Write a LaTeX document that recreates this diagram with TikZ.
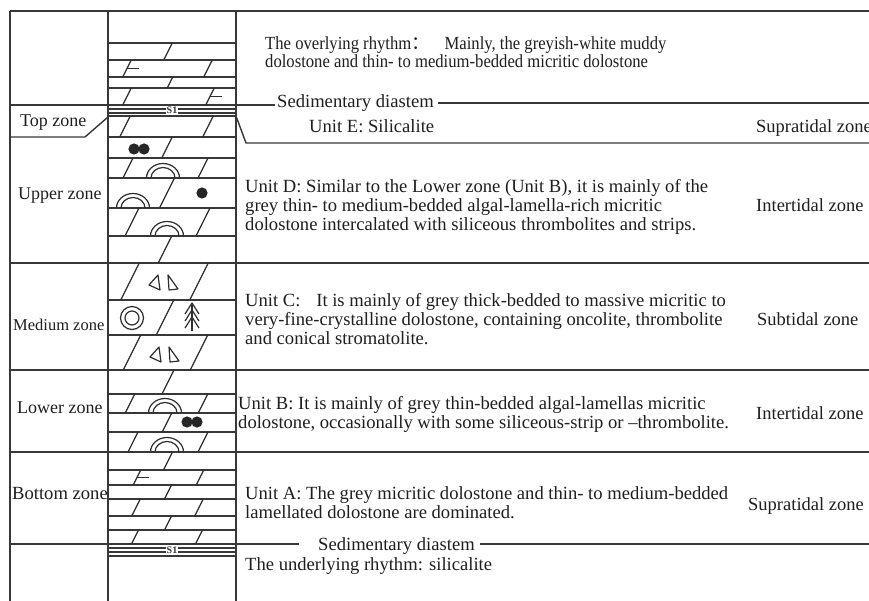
\documentclass[tikz,border=0pt]{standalone}
\usepackage{fontspec}
\setmainfont{Liberation Serif}
\newfontfamily\narrowserif{Liberation Serif}[FakeStretch=0.9]
\newfontfamily\cjk{Noto Sans CJK SC}
\begin{document}
\begin{tikzpicture}[x=1pt,y=-1pt,
  frame/.style={line width=1.4pt, draw=black!78},
  bedline/.style={line width=1.2pt, draw=black!78},
  sym/.style={line width=1.2pt, draw=black!82, line join=round},
  dot/.style={fill=black!85},
  zlab/.style={font=\fontsize{18}{18}\selectfont, text=black!88, inner sep=0pt, anchor=base west},
  mlab/.style={font=\fontsize{16.5}{16.5}\selectfont, text=black!88, inner sep=0pt, anchor=base west},
  desc/.style={font=\fontsize{18.6}{18.6}\selectfont, text=black!88, inner sep=0pt, anchor=base west},
  topdesc/.style={font=\narrowserif\fontsize{18.5}{18.5}\selectfont, text=black!88, inner sep=0pt, anchor=base west},
  envlab/.style={font=\fontsize{18.5}{18.5}\selectfont, text=black!88, inner sep=0pt, anchor=base west},
  sone/.style={font=\fontsize{10}{10}\selectfont\bfseries, text=black!80, fill=white, inner sep=0.6pt}]
\useasboundingbox (0,0) rectangle (869,601);
\fill[white] (0,0) rectangle (869,601);

% ---------- helpers for the lithology column ----------
\newcommand\slashmark[3]{% x, bed top, bed bottom
  \draw[sym] ({#1-0.25*(#3-#2)},#3) -- ({#1+0.25*(#3-#2)},#2);}
\newcommand\mudmark[3]{% slash with a short tick
  \slashmark{#1}{#2}{#3}
  \draw[sym] (#1,{(#2+#3)/2}) -- ++(12,0);}
\newcommand\archmark[2]{% centre x, base y
  \draw[sym] ({#1+16.5},#2) arc[start angle=0,end angle=180,x radius=16.5pt,y radius=14.5pt];
  \draw[sym] ({#1+12},#2) arc[start angle=0,end angle=180,x radius=12pt,y radius=10.5pt];}
\newcommand\dotpair[2]{%
  \fill[dot] ({#1-5},#2) circle[radius=5.6pt];
  \fill[dot] ({#1+5},#2) circle[radius=5.6pt];}
\newcommand\thromb[2]{%
  \draw[sym] ({#1-12},{#2+2}) -- ({#1-3},{#2-8}) -- ({#1-1},{#2+7}) -- cycle;
  \draw[sym] ({#1+7},{#2-8}) -- ({#1+8},{#2+7}) -- ({#1+17},{#2+6}) -- cycle;}

% ---------- frame ----------
\draw[frame] (10,11) -- (869,11);
\draw[frame] (10,11) -- (10,601);
\draw[frame] (108,11) -- (108,601);
\draw[frame] (236,11) -- (236,601);

% zone boundaries across the whole table
\foreach \yy in {263,370,452} \draw[frame] (10,\yy) -- (869,\yy);

% bed lines inside the lithology column
\foreach \yy in {43,60,77,88,137,158,178,208,236,300,335,394,413,432,470,485,499,516,530}
  \draw[bedline] (108,\yy) -- (236,\yy);

% upper silicalite band
\draw[frame] (10,105) -- (275,105);
\foreach \yy in {109,113,116} \draw[bedline] (108,\yy) -- (236,\yy);
\node[sone] (s1top) at (172,110.5) {S1};

% lower silicalite band
\draw[frame] (10,544) -- (299,544);
\draw[frame] (480,544) -- (869,544);
\foreach \yy in {548,552,556} \draw[bedline] (108,\yy) -- (236,\yy);
\node[sone] (s1bot) at (172,550) {S1};

% top zone bracket
\draw[frame] (10,137) -- (85,137) -- (108,117);
\draw[frame] (236,116) -- (246,143) -- (869,143);
\draw[frame] (438,103) -- (869,103);

% ---------- symbols ----------
% overlying rhythm
\slashmark{168}{43}{60}
\mudmark{127}{60}{77}
\slashmark{208}{60}{77}
\slashmark{170}{77}{88}
\slashmark{127}{88}{105}
\mudmark{210}{88}{105}
% top zone
\slashmark{125}{116}{137}
\slashmark{208}{116}{137}
% upper zone
\dotpair{139}{149}
\slashmark{167}{137}{158}
\slashmark{128}{158}{178}
\slashmark{203}{158}{178}
\archmark{163}{178}
\slashmark{167}{178}{208}
\archmark{133}{208}
\fill[dot] (202,193) circle[radius=5.6pt];
\slashmark{132}{208}{236}
\slashmark{203}{208}{236}
\archmark{167}{236}
\slashmark{165}{236}{263}
% medium zone
\slashmark{130}{263}{300}
\slashmark{199}{263}{300}
\thromb{161}{283}
\slashmark{165}{300}{335}
\draw[sym] (132,318) circle[radius=11.5pt];
\draw[sym] (132,318) circle[radius=7pt];
\foreach \ay in {303,310,317}
  \draw[sym] (185,{\ay+11}) -- (192,\ay) -- (199,{\ay+11});
\draw[sym] (192,305) -- (192,331);
\slashmark{132}{335}{370}
\slashmark{199}{335}{370}
\thromb{162}{355}
% lower zone
\slashmark{168}{370}{394}
\slashmark{130}{394}{413}
\slashmark{203}{394}{413}
\archmark{165}{413}
\slashmark{167}{413}{432}
\dotpair{192}{422}
\slashmark{133}{432}{452}
\slashmark{203}{432}{452}
\archmark{167}{452}
% bottom zone
\slashmark{168}{452}{470}
\mudmark{137}{470}{485}
\slashmark{200}{470}{485}
\slashmark{168}{485}{499}
\slashmark{136}{499}{516}
\slashmark{199}{499}{516}
\slashmark{168}{516}{530}
\slashmark{135}{530}{544}
\slashmark{199}{530}{544}

% ---------- zone names ----------
\node[zlab] (ztop) at (20,127) {Top zone};
\node[zlab] (zupper) at (18,200) {Upper zone};
\node[mlab] (zmed) at (13,330) {Medium zone};
\node[zlab] (zlower) at (17,413) {Lower zone};
\node[zlab,font=\fontsize{18.6}{18.6}\selectfont] (zbottom) at (12,499) {Bottom zone};

% ---------- descriptions ----------
\node[topdesc] (ov1) at (265,50) {The overlying rhythm{\cjk ：}\hspace{0.8em}Mainly, the greyish-white muddy};
\node[topdesc] (ov2) at (265,68) {dolostone and thin- to medium-bedded micritic dolostone};
\node[desc] (dia1) at (277,108) {Sedimentary diastem};
\node[desc] (ue) at (309,133) {Unit E: Silicalite};
\node[desc] (ud1) at (245,193) {Unit D: Similar to the Lower zone (Unit B), it is mainly of the};
\node[desc] (ud2) at (245,212) {grey thin- to medium-bedded algal-lamella-rich micritic};
\node[desc] (ud3) at (245,231) {dolostone intercalated with siliceous thrombolites and strips.};
\node[desc] (uc1) at (245,306) {Unit C:\hspace{0.6em} It is mainly of grey thick-bedded to massive micritic to};
\node[desc] (uc2) at (245,325) {very-fine-crystalline dolostone, containing oncolite, thrombolite};
\node[desc] (uc3) at (245,344) {and conical stromatolite.};
\node[desc] (ub1) at (238,409) {Unit B: It is mainly of grey thin-bedded algal-lamellas micritic};
\node[desc] (ub2) at (238,428) {dolostone, occasionally with some siliceous-strip or --thrombolite.};
\node[desc] (ua1) at (245,499) {Unit A: The grey micritic dolostone and thin- to medium-bedded};
\node[desc] (ua2) at (245,518) {lamellated dolostone are dominated.};
\node[desc] (dia2) at (318,550) {Sedimentary diastem};
\node[desc] (under) at (245,570) {The underlying rhythm: silicalite};

% ---------- environments ----------
\node[envlab] (env1) at (756,133) {Supratidal zone};
\node[envlab] (env2) at (756,212) {Intertidal zone};
\node[envlab] (env3) at (757,325) {Subtidal zone};
\node[envlab] (env4) at (756,419) {Intertidal zone};
\node[envlab] (env5) at (748,510) {Supratidal zone};
\end{tikzpicture}
\end{document}
